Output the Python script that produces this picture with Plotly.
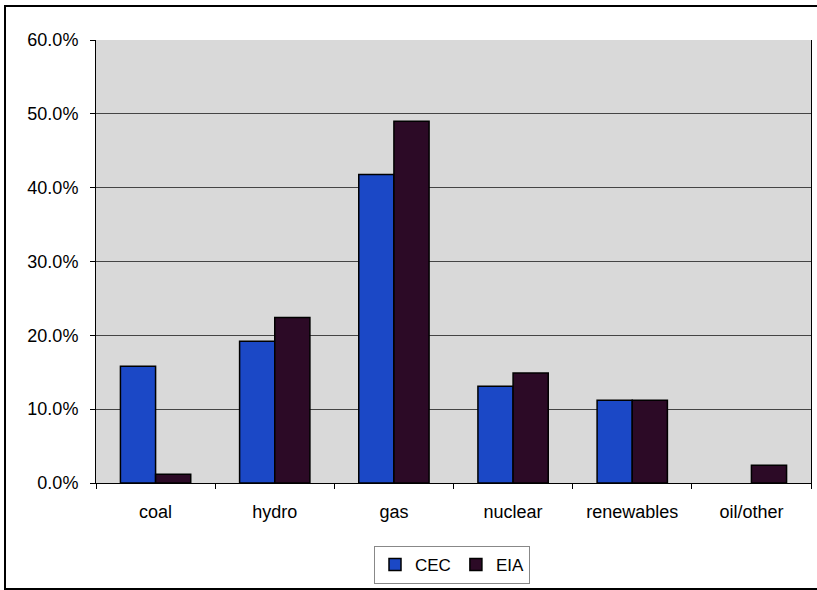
import plotly.graph_objects as go

categories = ["coal", "hydro", "gas", "nuclear", "renewables", "oil/other"]
cec = [0.158, 0.192, 0.418, 0.131, 0.112, 0.0]
eia = [0.012, 0.224, 0.490, 0.149, 0.112, 0.024]
y_ticks = [0, 0.1, 0.2, 0.3, 0.4, 0.5, 0.6]
y_labels = ["0.0%", "10.0%", "20.0%", "30.0%", "40.0%", "50.0%", "60.0%"]

W, H = 817, 590
L, R, T, B = 96, 6, 40, 107

cec_line_w = [0 if v == 0 else 1.5 for v in cec]
eia_line_w = [0 if v == 0 else 1.5 for v in eia]

fig = go.Figure()
fig.add_trace(go.Bar(name="CEC", x=categories, y=cec,
                     marker=dict(color="#1b48c6", line=dict(color="black", width=cec_line_w))))
fig.add_trace(go.Bar(name="EIA", x=categories, y=eia,
                     marker=dict(color="#2c0a26", line=dict(color="black", width=eia_line_w))))

fig.update_layout(
    width=W, height=H,
    margin=dict(l=L, r=R, t=T, b=B, autoexpand=False),
    paper_bgcolor="white",
    plot_bgcolor="#d9d9d9",
    barmode="group",
    bargap=0.41,
    bargroupgap=0,
    font=dict(family="Liberation Sans, Arial, sans-serif", size=18, color="black"),
    showlegend=True,
    legend=dict(orientation="h", x=452 / W, xref="container", xanchor="center",
                y=(H - 565) / H, yref="container", yanchor="middle",
                bordercolor="#888888", borderwidth=1, bgcolor="white",
                font=dict(size=17), itemwidth=30, traceorder="normal",
                tracegroupgap=0),
    shapes=[dict(type="rect", xref="paper", yref="paper",
                 x0=-(L - 5) / (W - L - R), x1=(W - L + 2) / (W - L - R),
                 y0=-(B - 1) / (H - T - B), y1=1 + (T - 6) / (H - T - B),
                 line=dict(color="black", width=2), layer="below")],
)
fig.update_xaxes(
    type="category", showline=True, linecolor="black", linewidth=1,
    ticks="outside", tickson="boundaries", ticklen=5, tickcolor="black",
    showgrid=False, mirror=False, tickfont=dict(size=18), automargin=False,
    ticklabelstandoff=12,
)
fig.update_yaxes(
    range=[0, 0.6], tickvals=y_ticks, ticktext=y_labels,
    showline=True, linecolor="black", linewidth=1, mirror=True,
    ticks="outside", ticklen=5, tickcolor="black",
    showgrid=True, gridcolor="#444444", gridwidth=1,
    zeroline=False, tickfont=dict(size=18), automargin=False,
    ticklabelstandoff=8,
)
fig.write_html("out.html")
